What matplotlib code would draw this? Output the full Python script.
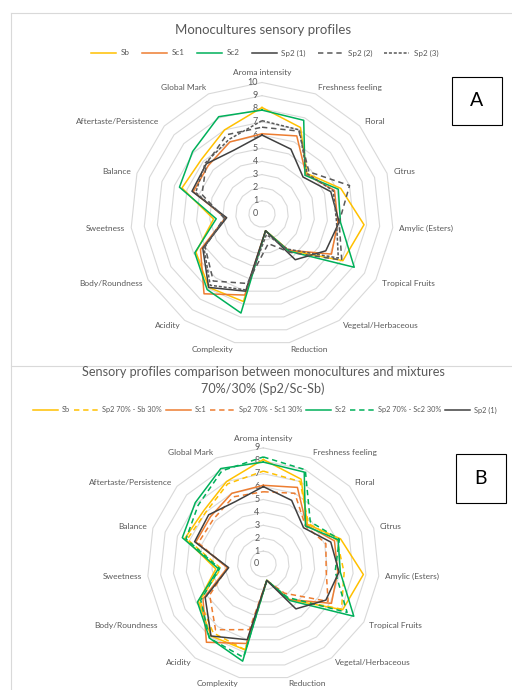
# Sensory radar profiles: monocultures (A) and 70/30 mixtures (B)
import matplotlib.pyplot as plt
import numpy as np
from matplotlib.lines import Line2D
from matplotlib.patches import Rectangle

plt.rcParams['font.family'] = ['Lato', 'DejaVu Sans']

# Attributes, clockwise from the top
attributes = ['Aroma intensity', 'Freshness feeling', 'Floral', 'Citrus', 'Amylic (Esters)',
              'Tropical Fruits', 'Vegetal/Herbaceous', 'Reduction', 'Complexity', 'Acidity',
              'Body/Roundness', 'Sweetness', 'Balance', 'Aftertaste/Persistence', 'Global Mark']

# Monoculture scores
sb    = [8.1, 7.2, 4.6, 6.3, 7.8, 7.1, 3.4, 1.3, 6.8, 6.9, 5.8, 3.7, 6.4, 6.2, 7.0]
sc1   = [6.1, 6.5, 4.5, 5.8, 5.8, 6.1, 3.4, 1.3, 6.3, 7.5, 5.4, 2.8, 5.5, 5.5, 6.0]
sc2   = [7.9, 7.8, 4.4, 6.1, 6.0, 8.1, 3.5, 1.3, 7.7, 7.1, 5.9, 3.5, 6.6, 7.1, 8.1]
sp2_1 = [6.0, 5.4, 4.2, 5.5, 5.9, 5.6, 4.3, 1.3, 6.0, 6.9, 5.2, 2.7, 5.6, 5.7, 5.3]
sp2_2 = [6.6, 6.9, 4.8, 7.0, 5.9, 7.0, 3.6, 2.3, 5.4, 6.3, 5.0, 2.9, 4.8, 5.7, 6.6]
sp2_3 = [7.1, 7.0, 4.6, 5.7, 5.7, 6.7, 3.3, 1.6, 5.9, 6.7, 5.1, 2.8, 5.3, 5.8, 6.2]

# Mixture scores (Sp2 70% / partner 30%)
mix_sb  = [7.2, 7.0, 4.7, 6.0, 6.3, 7.0, 3.3, 1.3, 6.8, 6.6, 5.7, 3.3, 6.2, 6.0, 6.8]
mix_sc1 = [5.6, 6.0, 4.4, 5.1, 4.9, 5.8, 2.8, 1.3, 5.2, 6.3, 4.8, 2.8, 5.3, 5.2, 5.7]
mix_sc2 = [8.3, 8.0, 4.9, 6.2, 5.6, 7.5, 3.2, 1.3, 7.4, 7.1, 5.6, 3.4, 6.3, 6.8, 7.9]

YELLOW = '#ffc000'
ORANGE = '#ed7d31'
GREEN = '#00b05a'
DARK = '#404040'
GREY = '#595959'
GRID = '#d9d9d9'

SOLID = '-'
DASH = (0, (3.5, 2.5))
FINE = (0, (2.0, 1.2))

W, H = 512, 690
fig = plt.figure(figsize=(W / 100, H / 100), dpi=100)


def px_axes(box, center, unit):
    # box = (left, top, right, bottom) in pixels, unit = pixels per score point
    l, t, r, b = box
    ax = fig.add_axes([l / W, 1 - b / H, (r - l) / W, (b - t) / H])
    cx, cy = center
    ax.set_xlim((l - cx) / unit, (r - cx) / unit)
    ax.set_ylim((cy - b) / unit, (cy - t) / unit)
    ax.axis('off')
    return ax


def radar(ax, series, vmax, label_r):
    n = len(attributes)
    ang = np.deg2rad(np.arange(n) * 360.0 / n)
    sx, sy = np.sin(ang), np.cos(ang)
    ring_x = np.append(sx, sx[0])
    ring_y = np.append(sy, sy[0])
    for lvl in range(vmax + 1):
        ax.plot(ring_x * lvl, ring_y * lvl, color=GRID, lw=0.8, zorder=1)
        ax.text(-0.3, lvl, str(lvl), ha='right', va='center', fontsize=6.5, color=GREY, zorder=2)
    for name, vals, color, ls in series:
        v = np.append(vals, vals[0])
        ax.plot(ring_x * v, ring_y * v, color=color, ls=ls, lw=1.1, zorder=3)
    for i, lab in enumerate(attributes):
        ha = 'center' if abs(sx[i]) < 0.05 else ('left' if sx[i] > 0 else 'right')
        va = 'bottom' if sy[i] > 0.99 else 'center'
        ax.text(sx[i] * label_r, sy[i] * label_r, lab, ha=ha, va=va, fontsize=6, color=GREY)


def legend(series, y, size, **kw):
    handles = [Line2D([], [], color=c, ls=ls, lw=1.1) for _, _, c, ls in series]
    labels = [s[0] for s in series]
    fig.legend(handles, labels, loc='center', bbox_to_anchor=(265 / W, 1 - y / H),
               ncol=len(series), frameon=False, fontsize=size, labelcolor=GREY,
               handlelength=25 / (size * 100 / 72), borderaxespad=0, borderpad=0, **kw)


def px_box(x0, y0, x1, y1, **kw):
    fig.add_artist(Rectangle((x0 / W, 1 - y1 / H), (x1 - x0) / W, (y1 - y0) / H,
                             transform=fig.transFigure, fill=False, **kw))


# panel frames
fig.add_artist(Line2D([11 / W, 11 / W], [0, 1 - 13 / H], transform=fig.transFigure, color=GRID, lw=0.8))
fig.add_artist(Line2D([11 / W, 1], [1 - 13 / H, 1 - 13 / H], transform=fig.transFigure, color=GRID, lw=0.8))
fig.add_artist(Line2D([11 / W, 1], [1 - 366 / H, 1 - 366 / H], transform=fig.transFigure, color=GRID, lw=0.8))

# Panel A
series_a = [('Sb', sb, YELLOW, SOLID), ('Sc1', sc1, ORANGE, SOLID), ('Sc2', sc2, GREEN, SOLID),
            ('Sp2 (1)', sp2_1, DARK, SOLID), ('Sp2 (2)', sp2_2, GREY, DASH), ('Sp2 (3)', sp2_3, GREY, FINE)]
ax_a = px_axes((11, 13, 512, 366), (262, 214), 13.15)
radar(ax_a, series_a, 10, 10.5)
fig.text(263 / W, 1 - 30 / H, 'Monocultures sensory profiles', ha='center', va='center',
         fontsize=9.5, color=GREY)
legend(series_a, 53, 5.8, handletextpad=0.6, columnspacing=1.5)
px_box(452, 77, 502, 125, edgecolor='black', lw=0.8)
fig.text(477 / W, 1 - 101 / H, 'A', ha='center', va='center', fontsize=14)

# Panel B
series_b = [('Sb', sb, YELLOW, SOLID), ('Sp2 70% - Sb 30%', mix_sb, YELLOW, DASH),
            ('Sc1', sc1, ORANGE, SOLID), ('Sp2 70% - Sc1 30%', mix_sc1, ORANGE, DASH),
            ('Sc2', sc2, GREEN, SOLID), ('Sp2 70% - Sc2 30%', mix_sc2, GREEN, DASH),
            ('Sp2 (1)', sp2_1, DARK, SOLID)]
ax_b = px_axes((11, 367, 512, 690), (263.3, 564), 12.9)
radar(ax_b, series_b, 9, 9.47)
fig.text(263 / W, 1 - 372 / H, 'Sensory profiles comparison between monocultures and mixtures',
         ha='center', va='center', fontsize=9.1, color=GREY)
fig.text(263 / W, 1 - 389 / H, '70%/30% (Sp2/Sc-Sb)', ha='center', va='center',
         fontsize=9.1, color=GREY)
legend(series_b, 410, 5.3, handletextpad=0.5, columnspacing=0.5)
px_box(456, 454, 506, 503, edgecolor='black', lw=0.8)
fig.text(481 / W, 1 - 479 / H, 'B', ha='center', va='center', fontsize=14)

fig.savefig('out.png', dpi=100)
